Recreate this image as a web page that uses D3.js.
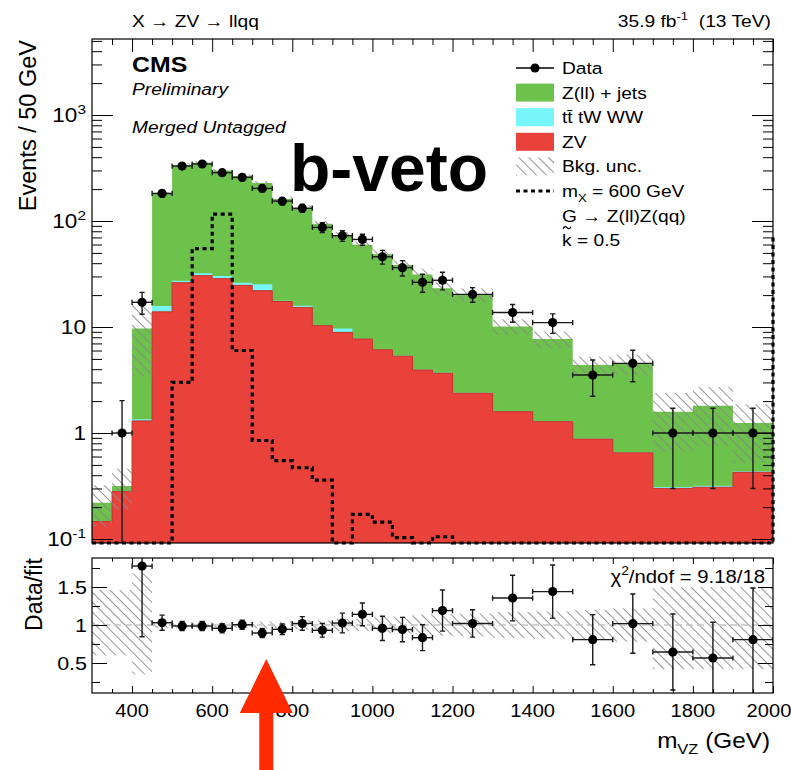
<!DOCTYPE html>
<html>
<head>
<meta charset="utf-8">
<script src="https://cdn.jsdelivr.net/npm/d3@7"></script>
<style>
  body { margin: 0; background: #fff; }
  text { font-family: "Liberation Sans", Arial, Helvetica, sans-serif; fill: #000; white-space: pre; }
</style>
</head>
<body>
<div id="chart"></div>
<script>
// m_VZ binning (GeV): 50 GeV up to 1200, then 100 GeV
let binEdges = [300, 350, 400, 450, 500, 550, 600, 650, 700, 750, 800, 850, 900, 950, 1000,
                1050, 1100, 1150, 1200, 1300, 1400, 1500, 1600, 1700, 1800, 1900, 2000];

// events / 50 GeV
let dataVals  = [null, 1, 17.1, 182, 330, 345, 286, 258, 203, 154, 132, 87, 72.7, 67, 46, 36.3, 26.4, 27.6, 20.3, 13.7, 11.0, 3.52, 4.54, 1.0, 1.0, 1.0];
let dataErrLo = [0, 1, 3.9, 13, 18, 19, 17, 16, 14, 12, 11.5, 9.3, 8.5, 8, 6.8, 6, 5.1, 5.2, 3.2, 2.6, 2.3, 1.3, 1.5, 0.7, 0.7, 0.7];
let dataErrHi = [0, 1.02, 4.1, 13, 18, 19, 17, 16, 14, 12, 11.5, 9.3, 8.5, 8, 6.8, 6, 5.1, 5.2, 3.2, 2.6, 2.3, 1.36, 1.5, 0.71, 0.71, 0.71];

// stacked backgrounds
let zvVals    = [0.146, 0.28, 1.3, 13.9, 26.2, 30.5, 28.6, 24.7, 22.0, 17.4, 15.3, 10.3, 8.9, 7.7, 6.1, 5.3, 3.93, 3.66, 2.37, 1.59, 1.28, 0.877, 0.65, 0.30, 0.308, 0.426];
let ttVals    = [0, 0, 0.05, 1.9, 1.1, 1.6, 1.7, 1.5, 3.3, 0.3, 0.6, 0.1, 0.8, 0.05, 0.05, 0.05, 0.05, 0.05, 0.03, 0.02, 0.02, 0.01, 0.01, 0.01, 0.01, 0.01];
let zjetsVals = [0.074, 0.036, 8.35, 164, 311, 323, 270, 239, 203, 144, 117, 84, 63.3, 51.8, 42.4, 33.2, 27.3, 19.5, 17.7, 8.5, 6.4, 3.5, 3.84, 1.28, 1.49, 0.81];

// relative background uncertainty (band edges / fit)
let uncUp = [1.46, 1.46, 1.68, 1.04, 1.035, 1.035, 1.035, 1.035, 1.045, 1.045, 1.06, 1.06, 1.08, 1.08, 1.11, 1.11, 1.14, 1.14, 1.15, 1.17, 1.18, 1.2, 1.22, 1.5, 1.5, 1.5];
let uncDn = [0.6, 0.6, 0.35, 0.96, 0.965, 0.965, 0.965, 0.965, 0.955, 0.955, 0.94, 0.94, 0.92, 0.92, 0.89, 0.89, 0.86, 0.86, 0.85, 0.83, 0.82, 0.8, 0.78, 0.42, 0.42, 0.42];

// signal, m_X = 600 GeV
let signalVals = [0, 0, 0, 0, 3.0, 55, 116, 6.0, 0.85, 0.55, 0.47, 0.36, 0, 0.171, 0.144, 0.103, 0, 0.105, 0, 0, 0, 0, 0, 0, 0, 0];
let signalEdgeTop = 70;

// data / fit
let ratioVals  = [null, null, 1.776, 1.03, 0.987, 0.987, 0.956, 1.004, 0.895, 0.943, 1.02, 0.93, 1.026, 1.14, 0.956, 0.94, 0.833, 1.19, 1.02, 1.355, 1.44, 0.807, 1.018, 0.645, 0.566, 0.807];
let ratioErrLo = [0, 0, 0.93, 0.1, 0.06, 0.06, 0.06, 0.06, 0.06, 0.07, 0.09, 0.09, 0.13, 0.15, 0.16, 0.16, 0.17, 0.27, 0.18, 0.3, 0.35, 0.33, 0.39, 0.5, 0.57, 0.81];
let ratioErrHi = [0, 0, 1.0, 0.1, 0.06, 0.06, 0.06, 0.06, 0.06, 0.07, 0.09, 0.09, 0.13, 0.15, 0.16, 0.16, 0.17, 0.27, 0.18, 0.3, 0.35, 0.33, 0.39, 0.5, 0.47, 0.68];

let xMajorTicks = [400, 600, 800, 1000, 1200, 1400, 1600, 1800, 2000];
let xTickLabels = ['400', '600', '800', '1000', '1200', '1400', '1600', '1800', '2000'];
let yMajorTicks = [0.1, 1, 10, 100, 1000];
let yTickLabels = [['10', '-1'], ['1', ''], ['10', ''], ['10', '2'], ['10', '3']];
let ratioMajorTicks = [0.5, 1, 1.5];
let ratioMinorTicks = [0.25, 0.75, 1.25, 1.75];
let ratioTickLabels = ['0.5', '1', '1.5'];
let chi2Value = '9.18/18';
let arrowAt = 735;

function cmsPlot() {

  let width = 791, height = 770;
  let frame = { left: 92, right: 773, top: 39, bottom: 543 },
      ratioFrame = { top: 558, bottom: 693 };
  let stretch = 1.13;

  let colors = { zjets: '#6cc24a', tt: '#76f6f8', zv: '#e8423b', zvLine: '#c9302a', hatch: '#8a8a8a', arrow: '#ff2a00' };

  function addText(g, x, y, parts, o = {}) {
    let size = o.size || 17;
    let t = g.append('text')
      .attr('transform', `translate(${x},${y})` + (o.rotate ? ` rotate(${o.rotate})` : '') + ` scale(${o.stretch || 1},1)`)
      .attr('text-anchor', o.anchor || 'start')
      .style('font-size', size + 'px')
      .style('font-weight', o.weight || null)
      .style('font-style', o.italic ? 'italic' : null);
    let shift = 0;
    parts.forEach(p => {
      if (typeof p === 'string') p = { t: p };
      let dy = p.sup ? -0.42 * size : p.sub ? 0.3 * size : 0;
      t.append('tspan')
        .attr('dy', dy - shift)
        .style('font-size', (p.sup || p.sub) ? (0.68 * size) + 'px' : null)
        .text(p.t);
      shift = dy;
    });
    return t;
  }

  function ticks(g, axis, vals, size) {
    g.call(axis.tickValues(vals).tickSize(size).tickFormat(''));
    g.select('.domain').remove();
    g.selectAll('line').attr('stroke', '#000').attr('stroke-width', 1);
  }

  function chart(selector) {

    let svg = d3.select(selector)
      .append('svg')
      .attr('width', width)
      .attr('height', height)
      .style('background-color', '#fff');

    let x = d3.scaleLinear().domain([300, 2000]).range([frame.left, frame.right]);
    let y = d3.scaleLog().domain([0.0917, 5212]).range([frame.bottom, frame.top]);
    let yr = d3.scaleLinear().domain([0.105, 1.882]).range([ratioFrame.bottom, ratioFrame.top]);

    let yc = v => (v > y.domain()[0] ? y(v) : frame.bottom);

    let defs = svg.append('defs');
    defs.append('pattern')
      .attr('id', 'hatch')
      .attr('width', 7).attr('height', 7)
      .attr('patternUnits', 'userSpaceOnUse')
      .attr('patternTransform', 'rotate(-45)')
      .append('line')
        .attr('x1', 3.5).attr('y1', 0).attr('x2', 3.5).attr('y2', 7)
        .attr('stroke', colors.hatch).attr('stroke-width', 0.9);
    defs.append('clipPath').attr('id', 'clip-top')
      .append('rect')
        .attr('x', frame.left).attr('y', frame.top)
        .attr('width', frame.right - frame.left).attr('height', frame.bottom - frame.top);
    defs.append('clipPath').attr('id', 'clip-ratio')
      .append('rect')
        .attr('x', frame.left).attr('y', ratioFrame.top)
        .attr('width', frame.right - frame.left).attr('height', ratioFrame.bottom - ratioFrame.top);

    // stack tops
    let ttTop = zvVals.map((v, i) => v + ttVals[i]);
    let total = ttTop.map((v, i) => v + zjetsVals[i]);

    let bins = binEdges.slice(0, -1).map((lo, i) => ({ lo: lo, hi: binEdges[i + 1], mid: (lo + binEdges[i + 1]) / 2, i: i }));

    function steps(vals) {
      let pts = [];
      vals.forEach((v, i) => { pts.push([binEdges[i], v]); pts.push([binEdges[i + 1], v]); });
      return pts;
    }

    let area = d3.area()
      .x(d => x(d[0]))
      .y0(frame.bottom)
      .y1(d => yc(d[1]));

    let top = svg.append('g').attr('clip-path', 'url(#clip-top)');

    top.append('path').attr('d', area(steps(total))).attr('fill', colors.zjets);
    top.append('path').attr('d', area(steps(ttTop))).attr('fill', colors.tt);
    top.append('path').attr('d', area(steps(zvVals)))
      .attr('fill', colors.zv)
      .attr('stroke', colors.zvLine)
      .attr('stroke-width', 1);

    // background uncertainty
    top.selectAll('rect.unc')
      .data(bins)
      .enter()
        .append('rect')
          .attr('class', 'unc')
          .attr('x', d => x(d.lo))
          .attr('width', d => x(d.hi) - x(d.lo))
          .attr('y', d => yc(total[d.i] * uncUp[d.i]))
          .attr('height', d => yc(total[d.i] * uncDn[d.i]) - yc(total[d.i] * uncUp[d.i]))
          .attr('fill', 'url(#hatch)');

    // signal
    let sigPts = [[300, 0]].concat(steps(signalVals), [[2000, signalEdgeTop]]);
    svg.append('path')
      .attr('d', d3.line().x(d => x(d[0])).y(d => yc(d[1]))(sigPts))
      .attr('fill', 'none')
      .attr('stroke', '#000')
      .attr('stroke-width', 3.2)
      .attr('stroke-dasharray', '4,3.5');

    // data points with error bars
    function points(g, vals, lo, hi, ys, bottom) {
      let cap = 2.6;
      let pts = g.selectAll('g.pt')
        .data(bins.filter(d => vals[d.i] !== null))
        .enter()
          .append('g')
          .attr('class', 'pt');
      pts.append('line')
        .attr('x1', d => x(d.lo)).attr('x2', d => x(d.hi))
        .attr('y1', d => ys(vals[d.i])).attr('y2', d => ys(vals[d.i]));
      pts.append('line')
        .attr('x1', d => x(d.mid)).attr('x2', d => x(d.mid))
        .attr('y1', d => ys(vals[d.i] + hi[d.i])).attr('y2', d => Math.min(bottom, ys(vals[d.i] - lo[d.i])));
      pts.append('path')
        .attr('d', d => {
          let cx = x(d.mid), cy = ys(vals[d.i]);
          let yt = ys(vals[d.i] + hi[d.i]), yb = Math.min(bottom, ys(vals[d.i] - lo[d.i]));
          return `M${x(d.lo)},${cy - cap}V${cy + cap}M${x(d.hi)},${cy - cap}V${cy + cap}` +
                 `M${cx - cap},${yt}H${cx + cap}M${cx - cap},${yb}H${cx + cap}`;
        });
      pts.selectAll('line, path')
        .attr('stroke', '#1a1a1a')
        .attr('stroke-width', 1.4)
        .attr('fill', 'none');
      pts.append('circle')
        .attr('cx', d => x(d.mid))
        .attr('cy', d => ys(vals[d.i]))
        .attr('r', 4.6)
        .attr('fill', '#000');
    }

    points(svg.append('g').attr('clip-path', 'url(#clip-top)'), dataVals, dataErrLo, dataErrHi, yc, frame.bottom);

    // frame and ticks, upper pad
    let yMinor = y.ticks().filter(v => yMajorTicks.indexOf(v) < 0 && v > y.domain()[0]);
    let xMinor = d3.range(350, 2000, 50).filter(v => xMajorTicks.indexOf(v) < 0);

    ticks(svg.append('g').attr('transform', `translate(${frame.left},0)`), d3.axisLeft(y), yMajorTicks, -21);
    ticks(svg.append('g').attr('transform', `translate(${frame.left},0)`), d3.axisLeft(y), yMinor, -10);
    ticks(svg.append('g').attr('transform', `translate(${frame.right},0)`), d3.axisRight(y), yMajorTicks, -21);
    ticks(svg.append('g').attr('transform', `translate(${frame.right},0)`), d3.axisRight(y), yMinor, -10);
    ticks(svg.append('g').attr('transform', `translate(0,${frame.top})`), d3.axisTop(x), xMajorTicks, -13);
    ticks(svg.append('g').attr('transform', `translate(0,${frame.top})`), d3.axisTop(x), xMinor, -6);

    svg.append('rect')
      .attr('x', frame.left).attr('y', frame.top)
      .attr('width', frame.right - frame.left).attr('height', frame.bottom - frame.top)
      .attr('fill', 'none').attr('stroke', '#000').attr('stroke-width', 1.2);

    yMajorTicks.forEach((v, i) => {
      let lab = yTickLabels[i];
      addText(svg, 86, y(v) + 7, [lab[0], { t: lab[1], sup: true }], { size: 20, anchor: 'end', stretch: stretch });
    });

    addText(svg, 36, 40, ['Events / 50 GeV'], { size: 23.5, anchor: 'end', rotate: -90 });

    // header texts
    addText(svg, 132, 27, ['X \u2192 ZV \u2192 llqq'], { size: 17, stretch: stretch });
    addText(svg, 771, 27, ['35.9 fb', { t: '-1', sup: true }, '  (13 TeV)'], { size: 17, anchor: 'end', stretch: stretch });
    addText(svg, 132, 72, ['CMS'], { size: 22, weight: 'bold', stretch: stretch });
    addText(svg, 132, 95, ['Preliminary'], { size: 17, italic: true, stretch: stretch });
    addText(svg, 132, 133, ['Merged Untagged'], { size: 17, italic: true, stretch: stretch });

    // legend
    let lg = svg.append('g');
    let lx = 516, lw = 38, ltx = 562, ly0 = 68, lstep = 24.6;
    lg.append('line').attr('x1', lx).attr('x2', lx + lw).attr('y1', ly0).attr('y2', ly0)
      .attr('stroke', '#000').attr('stroke-width', 1.4);
    lg.append('circle').attr('cx', lx + lw / 2).attr('cy', ly0).attr('r', 4.6).attr('fill', '#000');
    [colors.zjets, colors.tt, colors.zv, 'url(#hatch)'].forEach((c, i) => {
      lg.append('rect')
        .attr('x', lx).attr('y', ly0 + (i + 1) * lstep - 9)
        .attr('width', lw).attr('height', 18)
        .attr('fill', c);
    });
    lg.append('line')
      .attr('x1', lx).attr('x2', lx + lw)
      .attr('y1', ly0 + 5 * lstep).attr('y2', ly0 + 5 * lstep)
      .attr('stroke', '#000').attr('stroke-width', 3.2).attr('stroke-dasharray', '4,3.5');
    let legendLabels = [
      ['Data'],
      ['Z(ll) + jets'],
      ['tt\u0304 tW WW'],
      ['ZV'],
      ['Bkg. unc.'],
      ['m', { t: 'X', sub: true }, ' = 600 GeV'],
      ['G \u2192 Z(ll)Z(qq)'],
      ['k = 0.5']
    ];
    legendLabels.forEach((l, i) => {
      addText(lg, ltx, ly0 + i * lstep + 6, l, { size: 17, stretch: stretch });
    });
    // tilde over the k
    let tx = ltx + 5, ty = ly0 + 7 * lstep - 12.5;
    lg.append('path')
      .attr('d', `M${tx - 4},${ty + 1}C${tx - 2.5},${ty - 2} ${tx - 1},${ty - 1} ${tx},${ty}S${tx + 2.5},${ty + 2} ${tx + 4},${ty - 1}`)
      .attr('fill', 'none').attr('stroke', '#000').attr('stroke-width', 1.2);

    // ratio pad
    let rg = svg.append('g').attr('clip-path', 'url(#clip-ratio)');
    rg.selectAll('rect.unc')
      .data(bins)
      .enter()
        .append('rect')
          .attr('class', 'unc')
          .attr('x', d => x(d.lo))
          .attr('width', d => x(d.hi) - x(d.lo))
          .attr('y', d => yr(uncUp[d.i]))
          .attr('height', d => yr(uncDn[d.i]) - yr(uncUp[d.i]))
          .attr('fill', 'url(#hatch)');
    rg.append('line')
      .attr('x1', frame.left).attr('x2', frame.right)
      .attr('y1', yr(1)).attr('y2', yr(1))
      .attr('stroke', '#c4c4c4').attr('stroke-width', 1.6).attr('stroke-dasharray', '7,4');

    points(rg, ratioVals, ratioErrLo, ratioErrHi, yr, ratioFrame.bottom + 5);

    ticks(svg.append('g').attr('transform', `translate(${frame.left},0)`), d3.axisLeft(yr), ratioMajorTicks, -15);
    ticks(svg.append('g').attr('transform', `translate(${frame.left},0)`), d3.axisLeft(yr), ratioMinorTicks, -8);
    ticks(svg.append('g').attr('transform', `translate(${frame.right},0)`), d3.axisRight(yr), ratioMajorTicks, -15);
    ticks(svg.append('g').attr('transform', `translate(${frame.right},0)`), d3.axisRight(yr), ratioMinorTicks, -8);
    ticks(svg.append('g').attr('transform', `translate(0,${ratioFrame.top})`), d3.axisTop(x), xMajorTicks, -6);
    ticks(svg.append('g').attr('transform', `translate(0,${ratioFrame.top})`), d3.axisTop(x), xMinor, -3.5);
    ticks(svg.append('g').attr('transform', `translate(0,${ratioFrame.bottom})`), d3.axisBottom(x), xMajorTicks, -7);
    ticks(svg.append('g').attr('transform', `translate(0,${ratioFrame.bottom})`), d3.axisBottom(x), xMinor, -4);

    svg.append('rect')
      .attr('x', frame.left).attr('y', ratioFrame.top)
      .attr('width', frame.right - frame.left).attr('height', ratioFrame.bottom - ratioFrame.top)
      .attr('fill', 'none').attr('stroke', '#000').attr('stroke-width', 1.2);

    ratioMajorTicks.forEach((v, i) => {
      addText(svg, 87, yr(v) + 7, [ratioTickLabels[i]], { size: 19, anchor: 'end', stretch: stretch });
    });
    xMajorTicks.forEach((v, i) => {
      // keep the last label inside the picture
      let lx0 = Math.min(x(v), width - 22);
      addText(svg, lx0, 717, [xTickLabels[i]], { size: 19, anchor: 'middle', stretch: 1.06 });
    });

    addText(svg, 42, ratioFrame.top, ['Data/fit'], { size: 23, anchor: 'end', rotate: -90 });
    addText(svg, 770, 748, ['m', { t: 'VZ', sub: true }, ' (GeV)'], { size: 21.5, anchor: 'end', stretch: stretch });
    addText(svg, 765, 583, ['\u03c7', { t: '2', sup: true }, '/ndof = ' + chi2Value], { size: 18, anchor: 'end', stretch: stretch });

    // annotations on top of the figure
    addText(svg, 290, 191, ['b-veto'], { size: 66, weight: 'bold' });

    let ax = x(arrowAt);
    svg.append('path')
      .attr('d', `M${ax},659L${ax + 26.5},713L${ax + 7},713L${ax + 7},770L${ax - 7},770L${ax - 7},713L${ax - 26.5},713Z`)
      .attr('fill', colors.arrow);

    return chart;
  }

  return chart;
}

cmsPlot()('#chart');
</script>
</body>
</html>
